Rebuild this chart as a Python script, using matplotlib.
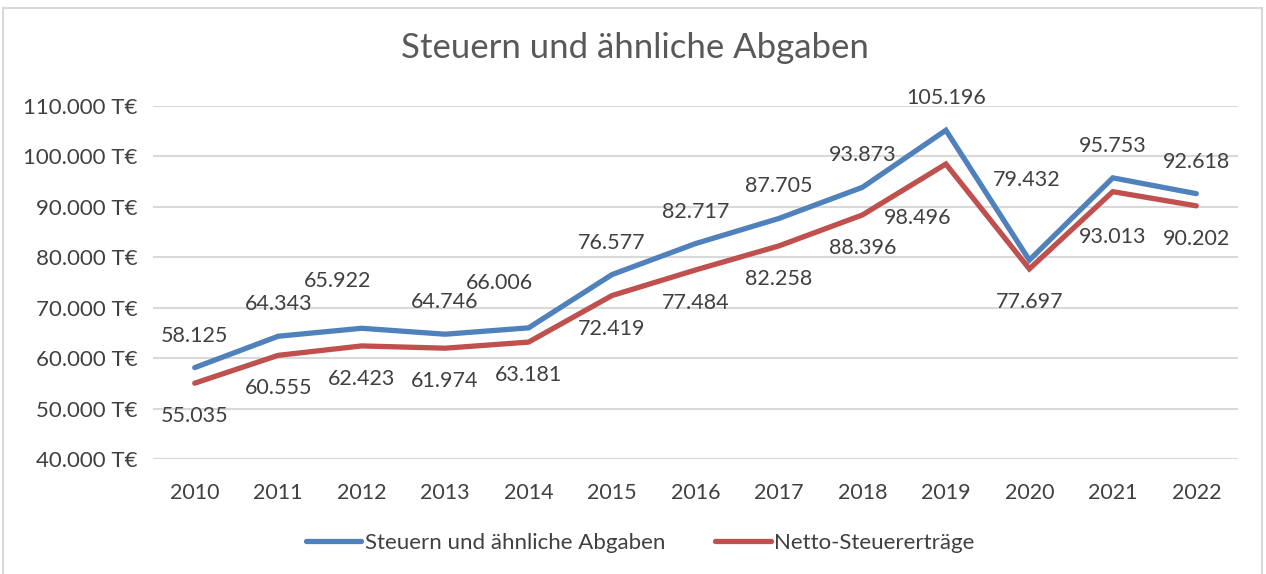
import matplotlib
matplotlib.use("Agg")
import matplotlib.pyplot as plt
from matplotlib.ticker import FuncFormatter
from matplotlib.lines import Line2D

# data
years = ["2010", "2011", "2012", "2013", "2014", "2015", "2016",
         "2017", "2018", "2019", "2020", "2021", "2022"]
steuern = [58.125, 64.343, 65.922, 64.746, 66.006, 76.577, 82.717,
           87.705, 93.873, 105.196, 79.432, 95.753, 92.618]
netto = [55.035, 60.555, 62.423, 61.974, 63.181, 72.419, 77.484,
         82.258, 88.396, 98.496, 77.697, 93.013, 90.202]
labels_steuern = ["58.125", "64.343", "65.922", "64.746", "66.006", "76.577", "82.717",
                  "87.705", "93.873", "105.196", "79.432", "95.753", "92.618"]
labels_netto = ["55.035", "60.555", "62.423", "61.974", "63.181", "72.419", "77.484",
                "82.258", "88.396", "98.496", "77.697", "93.013", "90.202"]

# label offsets in pixels (some labels were moved by hand in the original)
off_steuern = [(0, 32)] * 13
off_steuern[2] = (-24, 47)
off_steuern[4] = (-29, 45)
off_steuern[10] = (-3, 80)
off_netto = [(0, -33)] * 13
off_netto[9] = (-28, -54)
off_netto[11] = (0, -45)

BLUE = "#4F81BD"
RED = "#C0504D"
TXT = "#404040"
GRID = "#D9D9D9"
plt.rcParams["font.family"] = ["Lato", "DejaVu Sans"]

W, H = 1266, 574
fig = plt.figure(figsize=(W / 100, H / 100), dpi=100)
ax = fig.add_axes([153 / W, 1 - 459 / H, (1238 - 153) / W, (459 - 106) / H])

x = list(range(len(years)))
ax.plot(x, steuern, color=BLUE, lw=3.8, solid_capstyle="round", solid_joinstyle="miter", zorder=3)
ax.plot(x, netto, color=RED, lw=3.8, solid_capstyle="round", solid_joinstyle="miter", zorder=3)

for i in x:
    ax.annotate(labels_steuern[i], (i, steuern[i]), xytext=off_steuern[i],
                textcoords="offset pixels", ha="center", va="center",
                fontsize=15.5, color=TXT, zorder=4)
    ax.annotate(labels_netto[i], (i, netto[i]), xytext=off_netto[i],
                textcoords="offset pixels", ha="center", va="center",
                fontsize=15.5, color=TXT, zorder=4)

ax.set_xlim(-0.5, 12.5)
ax.set_ylim(40, 110)
ax.set_yticks(range(40, 111, 10))
ax.yaxis.set_major_formatter(FuncFormatter(lambda v, p: "%d.000 T€" % v))
ax.set_xticks(x)
ax.set_xticklabels(years)
ax.tick_params(length=0, labelsize=15.5, labelcolor=TXT)
ax.tick_params(axis="y", labelsize=16, pad=11)
ax.tick_params(axis="x", pad=17)
ax.grid(axis="y", color=GRID, lw=1.5)
ax.set_axisbelow(True)
for s in ax.spines.values():
    s.set_visible(False)

fig.text(635 / W, 1 - 48 / H, "Steuern und ähnliche Abgaben", ha="center", va="center",
         fontsize=25, color="#595959")

handles = [Line2D([], [], color=BLUE, lw=3.8, solid_capstyle="round"),
           Line2D([], [], color=RED, lw=3.8, solid_capstyle="round")]
fig.legend(handles, ["Steuern und ähnliche Abgaben", "Netto-Steuererträge"],
           loc="center", bbox_to_anchor=(640 / W, 1 - 543 / H), ncol=2, frameon=False,
           fontsize=16, labelcolor=TXT, handlelength=2.5, handletextpad=0.15,
           columnspacing=2.25)

# chart border
fig.add_artist(plt.Rectangle((3 / W, -0.01), (W - 7) / W, 1 - 8 / H + 0.01,
                             transform=fig.transFigure, fill=False, ec=GRID, lw=1.5))

fig.savefig("out.png", dpi=100, facecolor="white")
